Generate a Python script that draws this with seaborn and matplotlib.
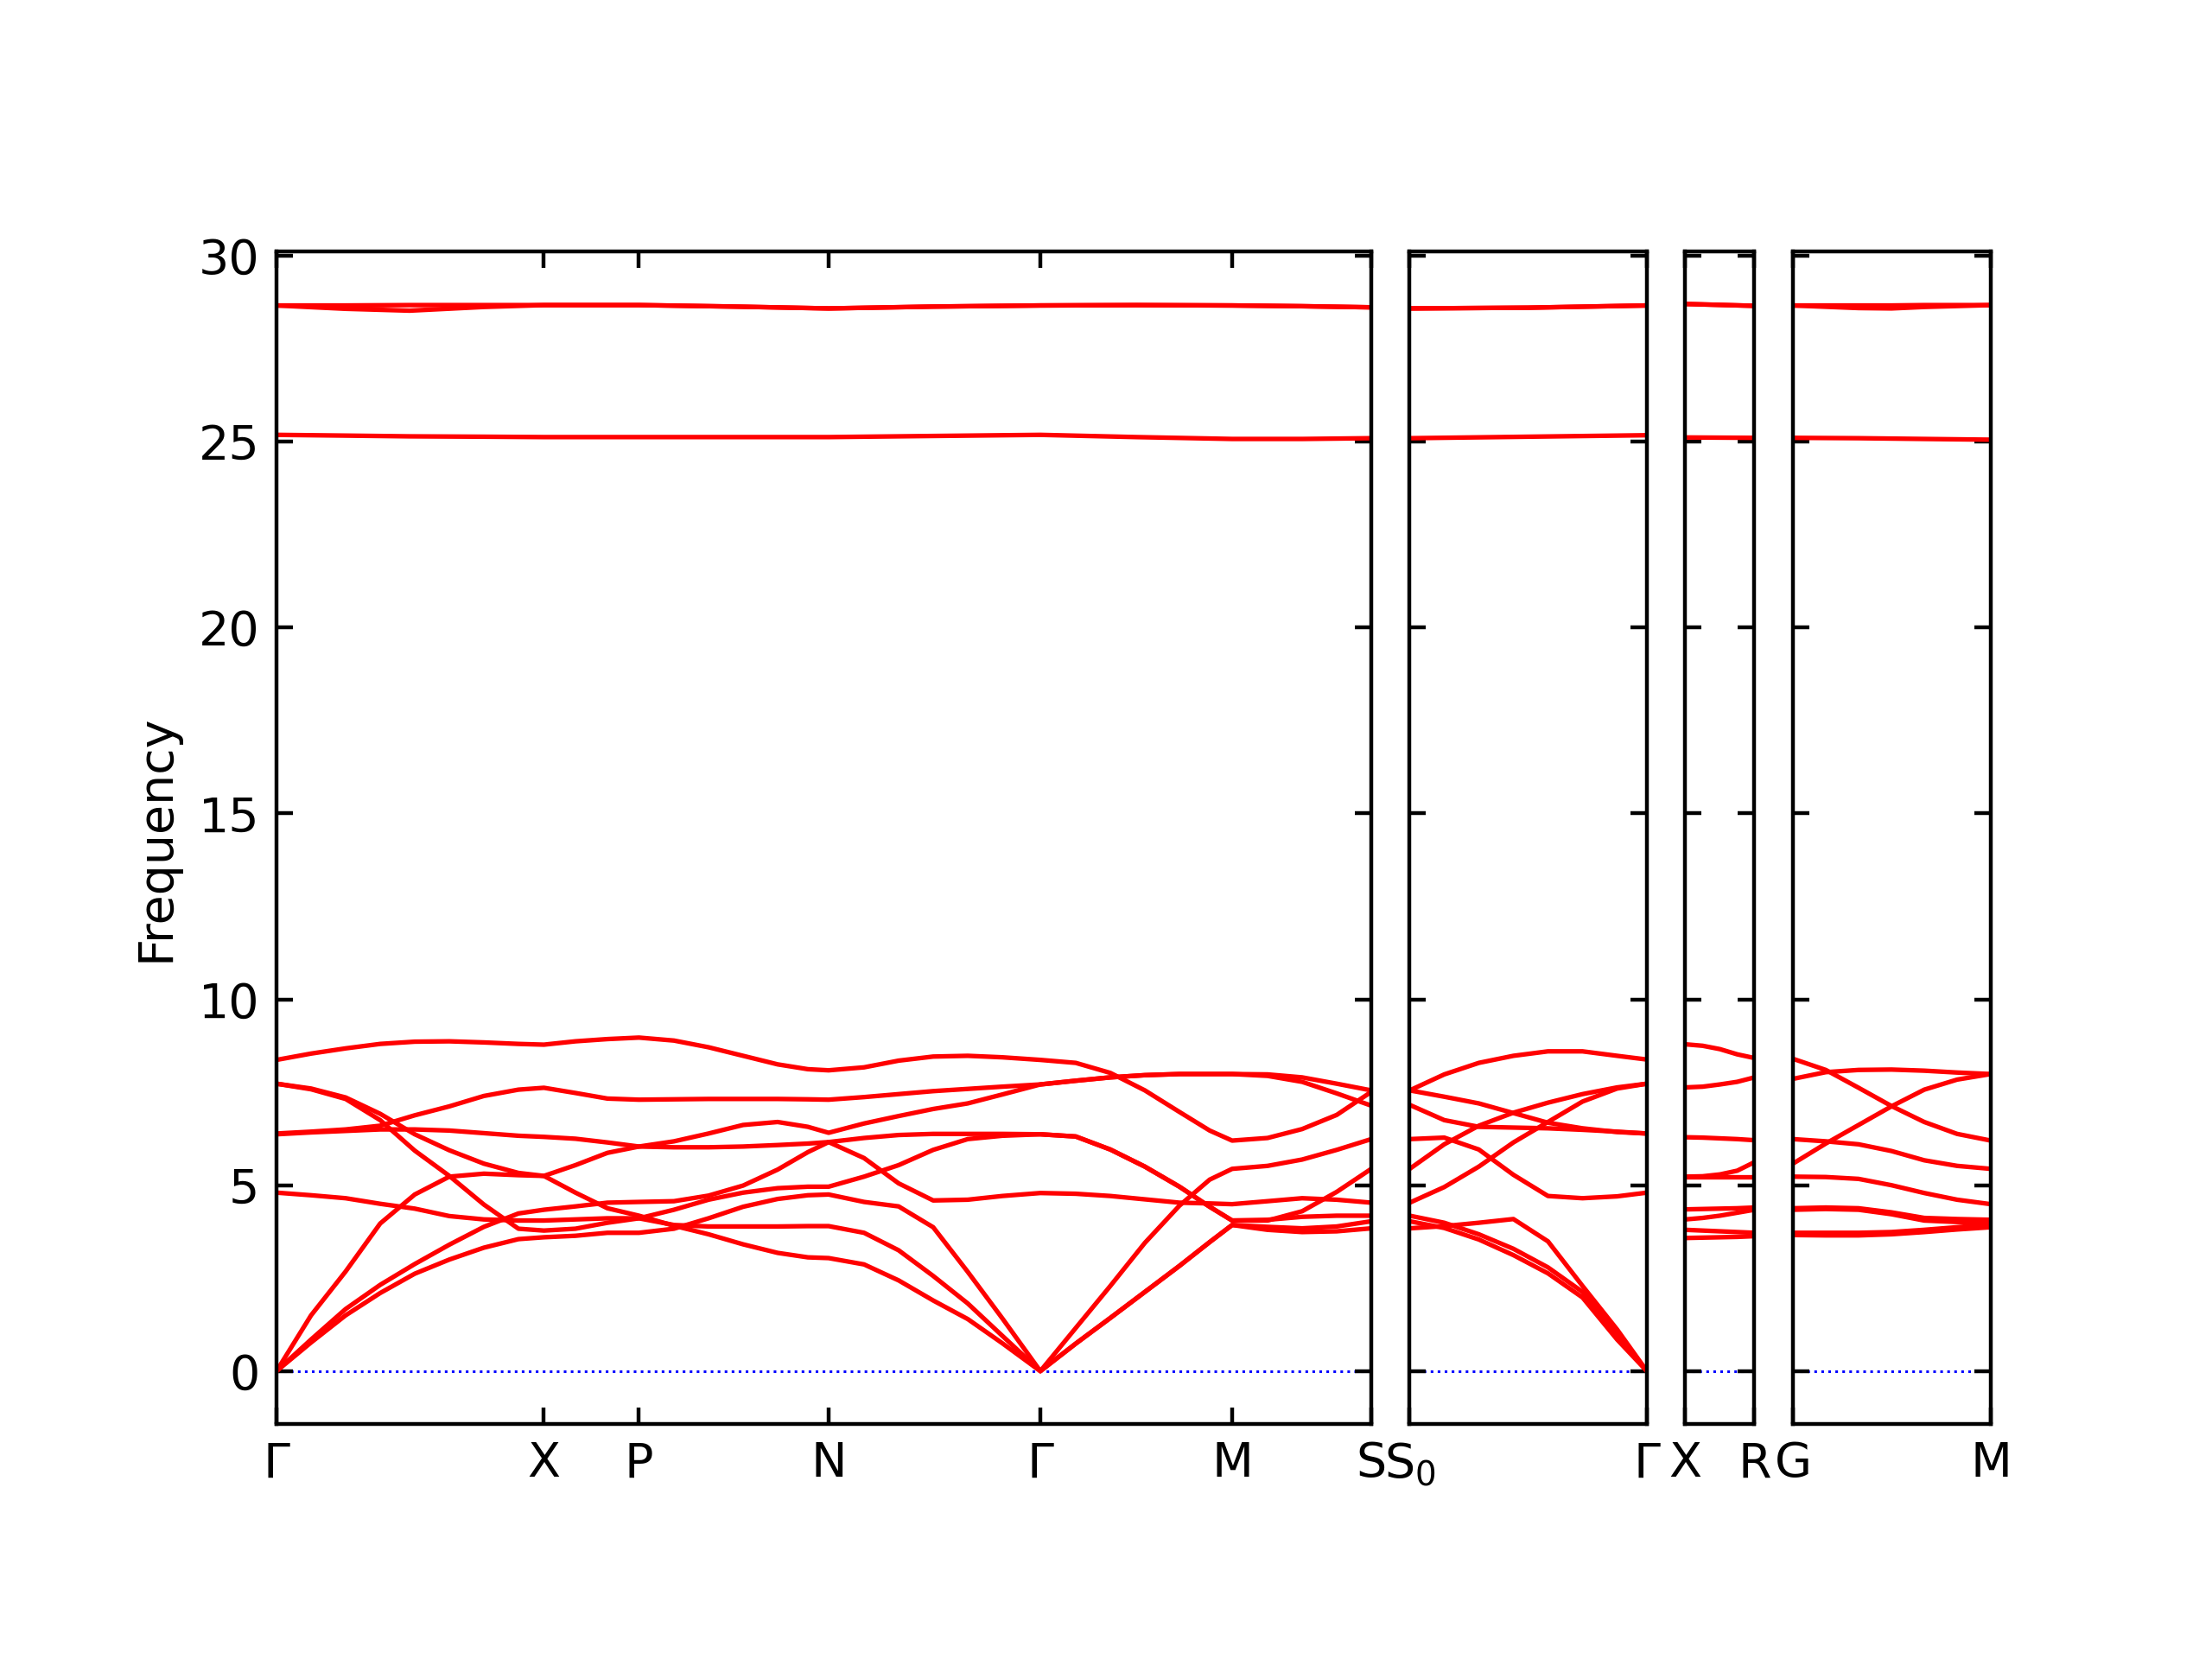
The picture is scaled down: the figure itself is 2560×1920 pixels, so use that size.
import numpy as np
import pandas as pd
import matplotlib
matplotlib.use("Agg")
import matplotlib.pyplot as plt
from matplotlib.gridspec import GridSpec
import seaborn as sns

# ---------------- data ----------------
# q-path distances (arbitrary units) of sampled points per panel
q_p1 = [0.000, 0.040, 0.080, 0.120, 0.160, 0.200, 0.240, 0.280, 0.3095,
        0.346, 0.383, 0.4195,
        0.460, 0.500, 0.540, 0.580, 0.615, 0.639,
        0.680, 0.720, 0.760, 0.800, 0.840, 0.884,
        0.925, 0.965, 1.005, 1.045, 1.080, 1.106,
        1.147, 1.187, 1.227, 1.267]
q_p2 = [1.267, 1.307, 1.347, 1.387, 1.427, 1.467, 1.507, 1.5415]
q_p3 = [1.5415, 1.5615, 1.5815, 1.6015, 1.6215]
q_p4 = [1.6215, 1.6595, 1.6975, 1.7355, 1.7735, 1.8115, 1.8505]

# high-symmetry points
ticks_p1 = [0.0, 0.3095, 0.4195, 0.639, 0.884, 1.106, 1.267]
labels_p1 = ["Γ", "X", "P", "N", "Γ", "M", "S"]
ticks_p2 = [1.267, 1.5415]
labels_p2 = ["S$_0$", "Γ"]
ticks_p3 = [1.5415, 1.6215]
labels_p3 = ["X", "R"]
ticks_p4 = [1.6215, 1.8505]
labels_p4 = ["G", "M"]

# low-frequency bands, panel 1 (Γ-X-P-N-Γ-M-S)
p1_a = [8.37, 8.54, 8.68, 8.80, 8.86, 8.87, 8.84, 8.80, 8.78, 8.87, 8.93, 8.97,
        8.89, 8.71, 8.48, 8.25, 8.12, 8.09, 8.17, 8.35, 8.46, 8.48, 8.44, 8.37,
        8.29, 8.02, 7.55, 6.97, 6.47, 6.20, 6.27, 6.51, 6.89, 7.51]
p1_b = [6.39, 6.44, 6.50, 6.60, 6.88, 7.12, 7.40, 7.57, 7.62, 7.48, 7.33, 7.30,
        7.31, 7.32, 7.32, 7.32, 7.31, 7.30, 7.37, 7.45, 7.53, 7.59, 7.65, 7.71,
        7.81, 7.90, 7.96, 7.99, 7.99, 7.99, 7.98, 7.90, 7.73, 7.55]
p1_c = [6.37, 6.42, 6.46, 6.50, 6.50, 6.47, 6.40, 6.33, 6.30, 6.25, 6.15, 6.04,
        6.02, 6.02, 6.04, 6.08, 6.12, 6.16, 6.27, 6.35, 6.38, 6.38, 6.38, 6.37,
        6.31, 5.96, 5.50, 4.96, 4.42, 4.05, 4.07, 4.15, 4.18, 4.18]
p1_d = [0.00, 1.50, 2.68, 3.97, 4.75, 5.23, 5.31, 5.27, 5.25, 5.54, 5.87, 6.04,
        6.18, 6.39, 6.62, 6.70, 6.57, 6.41, 6.66, 6.86, 7.05, 7.20, 7.44, 7.71,
        7.81, 7.90, 7.96, 7.99, 7.99, 7.99, 7.94, 7.78, 7.47, 7.14]
p1_e = [0.00, 0.85, 1.67, 2.32, 2.88, 3.40, 3.88, 4.24, 4.34, 4.43, 4.53, 4.55,
        4.57, 4.72, 4.99, 5.42, 5.89, 6.16, 5.73, 5.05, 4.59, 4.61, 4.71, 4.79,
        4.77, 4.71, 4.62, 4.53, 4.51, 4.49, 4.57, 4.65, 4.61, 4.53]
p1_f = [7.73, 7.58, 7.32, 6.75, 5.93, 5.25, 4.48, 3.83, 3.78, 3.83, 3.99, 4.11,
        4.34, 4.61, 4.80, 4.92, 4.96, 4.96, 5.23, 5.54, 5.95, 6.24, 6.33, 6.37,
        6.31, 5.96, 5.50, 4.96, 4.42, 4.05, 4.05, 4.30, 4.82, 5.44]
p1_g = [0.00, 0.77, 1.50, 2.10, 2.62, 3.00, 3.32, 3.55, 3.60, 3.64, 3.72, 3.72,
        3.83, 4.11, 4.42, 4.63, 4.73, 4.75, 4.55, 4.43, 3.87, 2.67, 1.42, 0.00,
        1.16, 2.29, 3.45, 4.45, 5.15, 5.44, 5.52, 5.69, 5.95, 6.24]
p1_h = [7.73, 7.60, 7.36, 6.92, 6.37, 5.94, 5.58, 5.33, 5.25, 4.80, 4.38, 4.18,
        3.91, 3.68, 3.41, 3.18, 3.06, 3.04, 2.87, 2.44, 1.90, 1.40, 0.75, 0.00,
        0.74, 1.43, 2.13, 2.83, 3.47, 3.93, 3.88, 3.84, 3.89, 4.03]
p1_i = [4.80, 4.73, 4.65, 4.50, 4.37, 4.17, 4.08, 4.05, 4.05, 4.08, 4.11, 4.11,
        3.93, 3.89, 3.89, 3.89, 3.90, 3.90, 3.72, 3.25, 2.56, 1.82, 0.95, 0.00,
        0.74, 1.43, 2.13, 2.83, 3.47, 3.93, 3.80, 3.74, 3.76, 3.84]

# panel 2 (S0-Γ)
p2_a = [7.55, 7.98, 8.29, 8.48, 8.60, 8.60, 8.48, 8.38]
p2_b = [7.55, 7.38, 7.20, 6.94, 6.68, 6.53, 6.43, 6.39]
p2_c = [7.16, 6.75, 6.57, 6.55, 6.53, 6.49, 6.44, 6.39]
p2_d = [6.24, 6.28, 5.96, 5.28, 4.71, 4.65, 4.70, 4.80]
p2_e = [5.44, 6.10, 6.60, 6.95, 7.22, 7.45, 7.63, 7.73]
p2_f = [4.53, 4.95, 5.50, 6.15, 6.70, 7.25, 7.60, 7.73]
p2_g = [3.84, 3.90, 3.99, 4.09, 3.49, 2.29, 1.12, 0.00]
p2_h = [4.18, 3.99, 3.68, 3.29, 2.79, 2.13, 0.97, 0.00]
p2_i = [4.03, 3.85, 3.54, 3.12, 2.63, 1.98, 0.85, 0.00]

# panel 3 (X-R)
p3_a = [8.79, 8.75, 8.66, 8.52, 8.42]
p3_b = [7.63, 7.65, 7.71, 7.78, 7.90]
p3_c = [6.29, 6.28, 6.26, 6.24, 6.21]
p3_d = [5.23, 5.24, 5.29, 5.39, 5.62]
p3_e = [5.23, 5.23, 5.23, 5.23, 5.23]
p3_f = [4.35, 4.36, 4.37, 4.38, 4.40]
p3_g = [4.08, 4.12, 4.18, 4.26, 4.34]
p3_h = [3.80, 3.78, 3.76, 3.74, 3.72]
p3_i = [3.58, 3.59, 3.60, 3.61, 3.63]

# panel 4 (G-M)
p4_a = [8.40, 8.10, 7.62, 7.13, 6.70, 6.38, 6.20]
p4_b = [7.86, 8.04, 8.10, 8.11, 8.08, 8.03, 7.99]
p4_c = [5.58, 6.12, 6.62, 7.12, 7.57, 7.84, 7.99]
p4_d = [6.24, 6.18, 6.10, 5.92, 5.67, 5.52, 5.44]
p4_e = [5.23, 5.22, 5.17, 5.00, 4.79, 4.61, 4.49]
p4_f = [4.38, 4.40, 4.38, 4.27, 4.12, 4.09, 4.07]
p4_g = [4.34, 4.36, 4.34, 4.22, 4.05, 4.01, 3.99]
p4_h = [3.72, 3.72, 3.72, 3.74, 3.80, 3.87, 3.95]
p4_i = [3.66, 3.65, 3.65, 3.68, 3.74, 3.81, 3.87]

# high-frequency bands (own sampling)
qh_p1 = [0.0, 0.08, 0.154, 0.24, 0.3095, 0.4195, 0.53, 0.639, 0.76, 0.884,
         0.995, 1.106, 1.187, 1.267]
h1_p1 = [28.66, 28.66, 28.67, 28.67, 28.67, 28.67, 28.63, 28.58, 28.63, 28.66,
         28.67, 28.66, 28.64, 28.61]
h2_p1 = [28.66, 28.57, 28.52, 28.62, 28.67, 28.67, 28.63, 28.58, 28.63, 28.66,
         28.67, 28.66, 28.64, 28.61]
h3_p1 = [25.18, 25.16, 25.14, 25.13, 25.12, 25.12, 25.12, 25.12, 25.15, 25.18,
         25.12, 25.07, 25.07, 25.09]
qh_p2 = [1.267, 1.404, 1.5415]
h1_p2 = [28.58, 28.60, 28.66]
h2_p2 = [28.58, 28.60, 28.66]
h3_p2 = [25.09, 25.13, 25.17]
qh_p3 = [1.5415, 1.6215]
h1_p3 = [28.70, 28.65]
h2_p3 = [28.70, 28.65]
h3_p3 = [25.11, 25.10]
qh_p4 = [1.6215, 1.6975, 1.7355, 1.7735, 1.8505]
h1_p4 = [28.66, 28.66, 28.66, 28.67, 28.67]
h2_p4 = [28.66, 28.59, 28.58, 28.62, 28.67]
h3_p4 = [25.10, 25.09, 25.08, 25.07, 25.05]

# --------------- assemble ---------------
panels = [
    (q_p1, [p1_a, p1_b, p1_c, p1_d, p1_e, p1_f, p1_g, p1_h, p1_i],
     qh_p1, [h1_p1, h2_p1, h3_p1], ticks_p1, labels_p1),
    (q_p2, [p2_a, p2_b, p2_c, p2_d, p2_e, p2_f, p2_g, p2_h, p2_i],
     qh_p2, [h1_p2, h2_p2, h3_p2], ticks_p2, labels_p2),
    (q_p3, [p3_a, p3_b, p3_c, p3_d, p3_e, p3_f, p3_g, p3_h, p3_i],
     qh_p3, [h1_p3, h2_p3, h3_p3], ticks_p3, labels_p3),
    (q_p4, [p4_a, p4_b, p4_c, p4_d, p4_e, p4_f, p4_g, p4_h, p4_i],
     qh_p4, [h1_p4, h2_p4, h3_p4], ticks_p4, labels_p4),
]

plt.rcParams["font.family"] = ["DejaVu Sans"]
plt.rcParams["font.size"] = 10

fig = plt.figure(figsize=(6.4, 4.8), dpi=400)
widths = [p[0][-1] - p[0][0] for p in panels]
gs = GridSpec(1, 4, figure=fig, width_ratios=widths, wspace=0.0962,
              left=0.125, right=0.9, bottom=0.1417, top=0.8486)

for k, (q, lows, qh, highs, tks, tls) in enumerate(panels):
    ax = fig.add_subplot(gs[0, k])
    rows = []
    for bi, vals in enumerate(lows):
        for x, y in zip(q, vals):
            rows.append((x, y, f"low{bi}"))
    for bi, vals in enumerate(highs):
        for x, y in zip(qh, vals):
            rows.append((x, y, f"high{bi}"))
    df = pd.DataFrame(rows, columns=["q", "freq", "band"])
    ax.axhline(0, color="blue", linestyle=":", linewidth=0.55, zorder=1)
    sns.lineplot(data=df, x="q", y="freq", units="band", estimator=None,
                 sort=False, color="red", linewidth=0.95, ax=ax, legend=False,
                 zorder=2)
    ax.set_xlim(q[0], q[-1])
    ax.set_ylim(-1.42, 30.12)
    ax.set_yticks([0, 5, 10, 15, 20, 25, 30])
    ax.set_xticks(tks)
    ax.set_xticklabels(tls)
    ax.tick_params(axis="both", direction="in", top=True, right=True,
                   bottom=True, left=True, length=3.5, width=0.8)
    ax.set_xlabel("")
    if k == 0:
        ax.set_ylabel("Frequency")
    else:
        ax.set_ylabel("")
        ax.tick_params(axis="y", labelleft=False)
    for s in ax.spines.values():
        s.set_linewidth(0.8)

fig.savefig("out.png", dpi=400)
